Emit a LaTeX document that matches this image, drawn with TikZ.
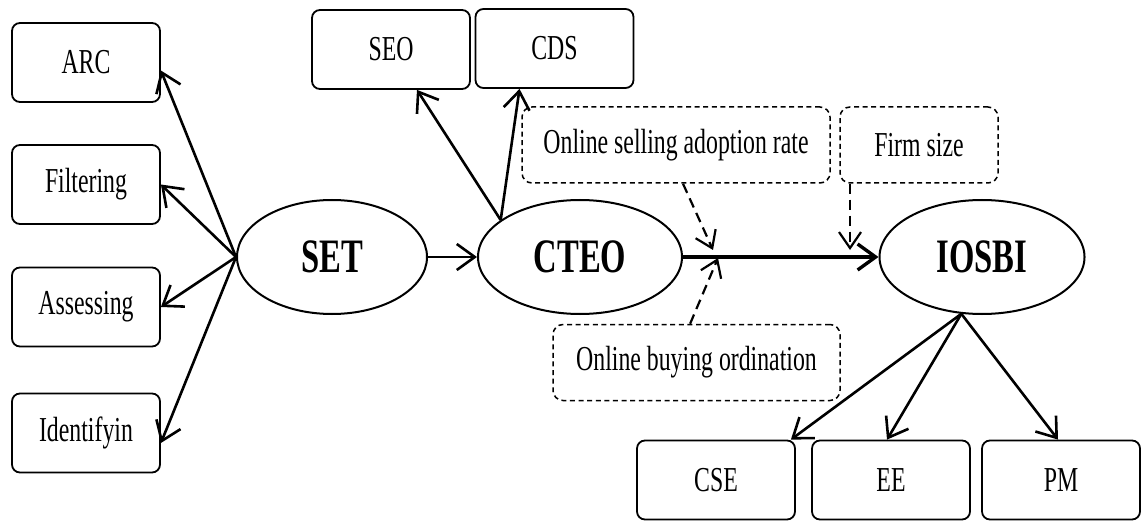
\documentclass[tikz,border=0pt]{standalone}
\usepackage{fontspec}
\setmainfont{Liberation Serif}[FakeStretch=0.68]
\usetikzlibrary{arrows.meta, shapes.geometric}

\begin{document}
\begin{tikzpicture}[x=0.5pt,y=0.5pt,
  box/.style={draw,rounded corners=4pt,line width=0.9pt,minimum width=79pt,minimum height=39.5pt,inner sep=0pt,font=\fontsize{17.5}{20}\selectfont},
  modbox/.style={draw,rounded corners=5pt,line width=0.75pt,dash pattern=on 2.5pt off 1.8pt,minimum height=38pt,inner sep=0pt,font=\fontsize{17.5}{20}\selectfont},
  latent/.style={draw,ellipse,line width=1pt,minimum height=57pt,inner sep=0pt,font=\fontsize{24}{28}\selectfont\bfseries},
  arr/.style={-{Straight Barb[length=9pt,width=13pt]},line width=1.3pt},
  modarr/.style={-{Straight Barb[length=8pt,width=11pt]},line width=1.1pt,dash pattern=on 5pt off 3pt}]
  \useasboundingbox (0,0) rectangle (1143,525);
  \node[box,minimum width=74pt] (arc) at (86,462.5){ARC};
  \node[box,minimum width=74pt] (filt) at (86,340.5){Filtering};
  \node[box,minimum width=74pt] (assess) at (86,218){Assessing};
  \node[box,minimum width=74pt] (ident) at (86,92){Identifyin};
  \node[box] (seo) at (391,475.5){SEO};
  \node[box] (cds) at (554.5,476.5){CDS};
  \node[latent,minimum width=95pt] (set) at (332,268){SET};
  \node[latent,minimum width=102pt] (cteo) at (580,268){CTEO};
  \node[latent,minimum width=102.5pt] (iosbi) at (982,268){IOSBI};
  \node[modbox,minimum width=154pt] (osar) at (676,380){Online selling adoption rate};
  \node[modbox,minimum width=79pt] (firm) at (919,380){Firm size};
  \node[modbox,minimum width=143.5pt] (obo) at (696.5,162.5){Online buying ordination};
  \node[box] (cse) at (716,45){CSE};
  \node[box] (ee) at (891,45){EE};
  \node[box] (pm) at (1061,45){PM};
  \coordinate (m1) at (713,275);
  \coordinate (m2) at (718,267);
  \coordinate (m3) at (850,275);
  \draw[arr](set.west)--([yshift=-4pt]arc.east);
  \draw[arr](set.west)--(filt.east);
  \draw[arr](set.west)--(assess.east);
  \draw[arr](set.west)--([yshift=-5pt]ident.east);
  \draw[arr](set.east)--(cteo.west);
  \draw[arr](cteo.155)--(seo);
  \draw[arr](cteo.155)--([xshift=-17.5pt]cds.south);
  \draw[arr,line width=1.7pt](cteo.east)--(iosbi.west);
  \draw[modarr]([xshift=3.5pt]osar.south)--(m1);
  \draw[modarr]([xshift=-3.2pt]obo.north)--(m2);
  \draw[modarr]([xshift=-34.5pt]firm.south)--(m3);
  \draw[arr](iosbi.250)--([xshift=-2.5pt]cse.north east);
  \draw[arr](iosbi.250)--([xshift=-2pt]ee.north);
  \draw[arr](iosbi.250)--([xshift=-1.5pt]pm.north);
\end{tikzpicture}
\end{document}
